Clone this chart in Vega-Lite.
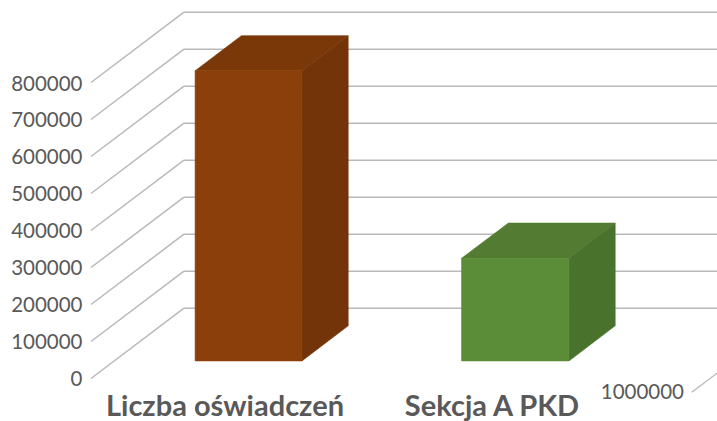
{
"$schema":"https://vega.github.io/schema/vega-lite/v6.json",
"width":717,"height":421,"padding":0,"autosize":{"type":"none"},
"background":"#ffffff",
"config":{"view":{"stroke":null}},
"datasets":{
"siatka":[
{"poziom":0,"tyl":190000},{"poziom":100000,"tyl":290000},{"poziom":200000,"tyl":390000},
{"poziom":300000,"tyl":490000},{"poziom":400000,"tyl":590000},{"poziom":500000,"tyl":690000},
{"poziom":600000,"tyl":790000},{"poziom":700000,"tyl":890000},{"poziom":800000,"tyl":990000}],
"milion":[{"etykieta":"1000000","od":2.25,"do":2.3483,"poziom":-37300,"tyl":16300,"prawa":2.221}],
"przod":[
{"element":"A przód","lewa":0.39,"prawa":0.79,"gora":831500,"dol":47500},
{"element":"B przód","lewa":1.388,"prawa":1.79,"gora":325000,"dol":47500}],
"bok":[
{"seria":"A","element":"A bok","x":0.79,"gora":831500,"dol":47500},
{"seria":"A","element":"A bok","x":0.9633,"gora":926500,"dol":142500},
{"seria":"B","element":"B bok","x":1.79,"gora":325000,"dol":47500},
{"seria":"B","element":"B bok","x":1.9633,"gora":420000,"dol":142500}],
"wierzch":[
{"seria":"A","element":"A wierzch","lewa":0.39,"prawa":0.79,"y":831500},
{"seria":"A","element":"A wierzch","lewa":0.5633,"prawa":0.9633,"y":926500},
{"seria":"B","element":"B wierzch","lewa":1.388,"prawa":1.79,"y":325000},
{"seria":"B","element":"B wierzch","lewa":1.5633,"prawa":1.9633,"y":420000}]
},
"layer":[
{"data":{"name":"siatka"},"mark":{"type":"rule","color":"#b9b9b9","strokeWidth":1.5},
"encoding":{
"x":{"datum":0.3483,"type":"quantitative","title":null,"scale":{"domain":[-0.3408,2.3446],"nice":false,"zero":false},
"axis":{"orient":"bottom","title":null,"values":[0.5,1.5],"labelExpr":"datum.value<1?'Liczba oświadczeń':'Sekcja A PKD'","domain":false,"ticks":false,"grid":false,"offset":-15,"labelPadding":0,"labelBaseline":"middle","labelFont":"Lato","labelFontWeight":"bold","labelFontSize":29,"labelLimit":500,"labelColor":"#595959","labelOverlap":false}},
"x2":{"datum":2.35},
"y":{"field":"tyl","type":"quantitative","title":null,"scale":{"domain":[-114865,1022973],"nice":false,"zero":false},
"axis":{"orient":"left","title":null,"values":[0,100000,200000,300000,400000,500000,600000,700000,800000],"format":"d","domain":false,"ticks":false,"grid":false,"offset":-82,"labelPadding":0,"labelOffset":1.5,"labelFont":"Lato","labelFontSize":20.5,"labelColor":"#595959"}}}},
{"data":{"name":"siatka"},"mark":{"type":"rule","color":"#b9b9b9","strokeWidth":1.5},
"encoding":{
"x":{"datum":0,"type":"quantitative","title":null,"scale":{"domain":[-0.3408,2.3446],"nice":false,"zero":false}},
"x2":{"datum":0.3483},
"y":{"field":"poziom","type":"quantitative","title":null,"scale":{"domain":[-114865,1022973],"nice":false,"zero":false}},
"y2":{"field":"tyl"}}},
{"data":{"name":"milion"},"mark":{"type":"rule","color":"#b9b9b9","strokeWidth":1.3},
"encoding":{
"x":{"field":"od","type":"quantitative","title":null,"scale":{"domain":[-0.3408,2.3446],"nice":false,"zero":false}},
"x2":{"field":"do"},
"y":{"field":"poziom","type":"quantitative","title":null,"scale":{"domain":[-114865,1022973],"nice":false,"zero":false}},
"y2":{"field":"tyl"}}},
{"data":{"name":"milion"},"mark":{"type":"text","align":"right","baseline":"middle","font":"Lato","fontSize":20.5,"color":"#595959","dy":1},
"encoding":{
"x":{"field":"prawa","type":"quantitative","title":null,"scale":{"domain":[-0.3408,2.3446],"nice":false,"zero":false}},
"y":{"field":"poziom","type":"quantitative","title":null,"scale":{"domain":[-114865,1022973],"nice":false,"zero":false}},
"text":{"field":"etykieta"}}},
{"data":{"name":"bok"},"mark":{"type":"area","orient":"vertical","interpolate":"linear","strokeWidth":0.6},
"encoding":{
"x":{"field":"x","type":"quantitative","title":null,"scale":{"domain":[-0.3408,2.3446],"nice":false,"zero":false}},
"y":{"field":"gora","type":"quantitative","title":null,"scale":{"domain":[-114865,1022973],"nice":false,"zero":false},"stack":null},
"y2":{"field":"dol"},
"detail":{"field":"seria"},
"color":{"field":"element","type":"nominal","legend":null,"scale":{"domain":["A przód","A wierzch","A bok","B przód","B wierzch","B bok"],"range":["#8b3f0a","#7a3808","#733409","#5b8c38","#537b32","#49722d"]}},
"stroke":{"field":"element","type":"nominal","legend":null,"scale":{"domain":["A przód","A wierzch","A bok","B przód","B wierzch","B bok"],"range":["#8b3f0a","#7a3808","#733409","#5b8c38","#537b32","#49722d"]}}}},
{"data":{"name":"wierzch"},"mark":{"type":"area","orient":"horizontal","interpolate":"linear","strokeWidth":0.6},
"encoding":{
"y":{"field":"y","type":"quantitative","title":null,"scale":{"domain":[-114865,1022973],"nice":false,"zero":false}},
"x":{"field":"lewa","type":"quantitative","title":null,"scale":{"domain":[-0.3408,2.3446],"nice":false,"zero":false},"stack":null},
"x2":{"field":"prawa"},
"detail":{"field":"seria"},
"color":{"field":"element","type":"nominal","legend":null,"scale":{"domain":["A przód","A wierzch","A bok","B przód","B wierzch","B bok"],"range":["#8b3f0a","#7a3808","#733409","#5b8c38","#537b32","#49722d"]}},
"stroke":{"field":"element","type":"nominal","legend":null,"scale":{"domain":["A przód","A wierzch","A bok","B przód","B wierzch","B bok"],"range":["#8b3f0a","#7a3808","#733409","#5b8c38","#537b32","#49722d"]}}}},
{"data":{"name":"przod"},"mark":{"type":"rect","strokeWidth":0.6},
"encoding":{
"x":{"field":"lewa","type":"quantitative","title":null,"scale":{"domain":[-0.3408,2.3446],"nice":false,"zero":false}},
"x2":{"field":"prawa"},
"y":{"field":"gora","type":"quantitative","title":null,"scale":{"domain":[-114865,1022973],"nice":false,"zero":false}},
"y2":{"field":"dol"},
"color":{"field":"element","type":"nominal","legend":null,"scale":{"domain":["A przód","A wierzch","A bok","B przód","B wierzch","B bok"],"range":["#8b3f0a","#7a3808","#733409","#5b8c38","#537b32","#49722d"]}},
"stroke":{"field":"element","type":"nominal","legend":null,"scale":{"domain":["A przód","A wierzch","A bok","B przód","B wierzch","B bok"],"range":["#8b3f0a","#7a3808","#733409","#5b8c38","#537b32","#49722d"]}}}}
]
}
